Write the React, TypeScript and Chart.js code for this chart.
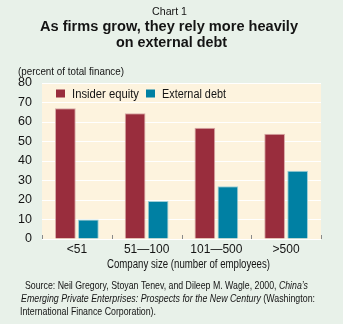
import React, { useEffect, useRef } from "react";
import { Chart, registerables } from "chart.js";

Chart.register(...registerables);

const categories = ["<51", "51\u2014100", "101\u2014500", ">500"];
const insiderEquity = [67, 64.5, 57, 54];
const externalDebt = [10, 19.5, 27, 35];
const seriesNames = ["Insider equity", "External debt"];
const yTickValues = [0, 10, 20, 30, 40, 50, 60, 70, 80];

const FF = '"Liberation Sans", Arial, sans-serif';
const BG = "#e8f1e9";
const PLOT_BG = "#fdf3de";
const RED = "#992d3d";
const BLUE = "#0080a3";
const TEXT = "#141414";

type Seg = [string, boolean];

// draw a line of text squeezed horizontally to a given width (condensed face)
function fitLine(
  ctx: CanvasRenderingContext2D,
  segs: Seg[],
  x: number,
  y: number,
  size: number,
  targetW: number,
  align: "left" | "center",
  bold = false
) {
  const fonts = segs.map(([, it]) => `${it ? "italic " : ""}${bold ? "bold " : ""}${size}px ${FF}`);
  let total = 0;
  const widths: number[] = [];
  segs.forEach(([t], i) => {
    ctx.font = fonts[i];
    const w = ctx.measureText(t).width;
    widths.push(w);
    total += w;
  });
  const sx = targetW / total;
  const left = align === "center" ? x - targetW / 2 : x;
  ctx.save();
  ctx.translate(left, y);
  ctx.scale(sx, 1);
  ctx.textAlign = "left";
  ctx.textBaseline = "alphabetic";
  let cx = 0;
  segs.forEach(([t], i) => {
    ctx.font = fonts[i];
    ctx.fillText(t, cx, 0);
    cx += widths[i];
  });
  ctx.restore();
}

const decorPlugin = {
  id: "decor",
  beforeDraw(chart: any) {
    const { ctx, chartArea, width, height } = chart;
    ctx.save();
    ctx.fillStyle = BG;
    ctx.fillRect(0, 0, width, height);
    ctx.fillStyle = PLOT_BG;
    ctx.fillRect(chartArea.left, chartArea.top, chartArea.right - chartArea.left, chartArea.bottom - chartArea.top);
    ctx.restore();
  },
  afterDraw(chart: any) {
    const { ctx, chartArea } = chart;
    ctx.save();
    // category boundary tick marks
    const n = categories.length;
    const w = (chartArea.right - chartArea.left) / n;
    ctx.strokeStyle = "#8a8a8a";
    ctx.lineWidth = 1;
    for (let i = 0; i <= n; i++) {
      const x = Math.round(chartArea.left + i * w) + 0.5;
      ctx.beginPath();
      ctx.moveTo(x, chartArea.bottom - 4);
      ctx.lineTo(x, chartArea.bottom);
      ctx.stroke();
    }
    // legend
    const colors = [RED, BLUE];
    const legendW = [67, 64];
    let lx = chartArea.left + 14;
    const ly = chartArea.top + 10.5;
    for (let i = 0; i < seriesNames.length; i++) {
      ctx.fillStyle = colors[i];
      ctx.fillRect(lx, ly - 4, 9, 8);
      ctx.fillStyle = TEXT;
      fitLine(ctx, [[seriesNames[i], false]], lx + 16, ly + 4.5, 12.5, legendW[i], "left");
      lx += 16 + legendW[i] + 7;
    }
    // titles
    ctx.fillStyle = TEXT;
    fitLine(ctx, [["Chart 1", false]], 169.5, 15, 11, 35, "center");
    fitLine(ctx, [["As firms grow, they rely more heavily", false]], 169, 31, 14.5, 258, "center", true);
    fitLine(ctx, [["on external debt", false]], 171.5, 46.5, 14.5, 111, "center", true);
    fitLine(ctx, [["(percent of total finance)", false]], 18, 75, 11, 106, "left");
    // x axis title
    fitLine(ctx, [["Company size (number of employees)", false]], 188.5, 268, 12.5, 163, "center");
    // source
    fitLine(
      ctx,
      [
        ["Source: Neil Gregory, Stoyan Tenev, and Dileep M. Wagle, 2000, ", false],
        ["China\u2019s", true],
      ],
      25,
      289,
      11,
      283,
      "left"
    );
    fitLine(
      ctx,
      [
        ["Emerging Private Enterprises: Prospects for the New Century", true],
        [" (Washington:", false],
      ],
      21,
      302,
      11,
      294,
      "left"
    );
    fitLine(ctx, [["International Finance Corporation).", false]], 20, 315, 11, 136, "left");
    ctx.restore();
  },
};

export default function App() {
  const ref = useRef<HTMLCanvasElement | null>(null);
  useEffect(() => {
    document.body.style.margin = "0";
    const canvas = ref.current;
    if (!canvas) return;
    const chart = new Chart(canvas, {
      type: "bar",
      data: {
        labels: categories,
        datasets: [
          {
            label: seriesNames[0],
            data: insiderEquity,
            backgroundColor: RED,
            borderColor: "#d9a9a6",
            borderWidth: 1,
            categoryPercentage: 0.66,
            barPercentage: 0.9,
          },
          {
            label: seriesNames[1],
            data: externalDebt,
            backgroundColor: BLUE,
            borderColor: "#9fcfd6",
            borderWidth: 1,
            categoryPercentage: 0.66,
            barPercentage: 0.9,
          },
        ],
      },
      options: {
        responsive: false,
        animation: false,
        devicePixelRatio: 1,
        layout: { padding: { top: 83, left: 0, right: 22, bottom: 0 } },
        plugins: {
          legend: { display: false },
          tooltip: { enabled: false },
          title: { display: false },
        },
        scales: {
          x: {
            grid: { display: false, drawTicks: false },
            border: { display: false },
            ticks: { color: TEXT, font: { family: FF, size: 12 }, padding: 3, maxRotation: 0, autoSkip: false },
            afterFit: (s: any) => {
              s.height = 85;
            },
          },
          y: {
            min: 0,
            max: 80,
            grid: { color: "#ffffff", lineWidth: 1, drawTicks: false },
            border: { display: false },
            ticks: { color: TEXT, font: { family: FF, size: 12.5 }, padding: 10, autoSkip: false },
            afterBuildTicks: (s: any) => {
              s.ticks = yTickValues.map((v) => ({ value: v }));
            },
            afterFit: (s: any) => {
              s.width = 42;
            },
          },
        },
      },
      plugins: [decorPlugin],
    });
    return () => chart.destroy();
  }, []);
  return (
    <div style={{ position: "fixed", left: 0, top: 0, width: 343, height: 324, background: BG }}>
      <canvas ref={ref} width={343} height={324} style={{ display: "block", width: 343, height: 324 }} />
    </div>
  );
}
